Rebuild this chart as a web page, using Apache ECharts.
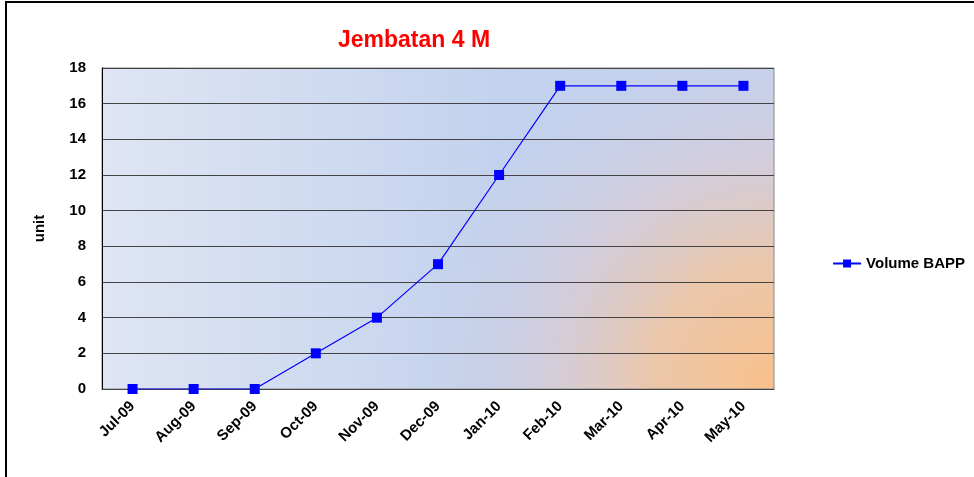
<!DOCTYPE html>
<html><head><meta charset="utf-8">
<script src="https://cdn.jsdelivr.net/npm/echarts@6/dist/echarts.min.js"></script>
<style>html,body{margin:0;padding:0;background:#fff}#c{width:974px;height:477px}</style>
</head><body><div id="c"></div>
<script>
var categories = ['Jul-09','Aug-09','Sep-09','Oct-09','Nov-09','Dec-09','Jan-10','Feb-10','Mar-10','Apr-10','May-10'];
var volumeBAPP = [0,0,0,2,4,7,12,17,17,17,17];
var yTicks = {min:0, max:18, interval:2};

var G = {left:102, top:68, right:974-774, bottom:477-389};
var chart = echarts.init(document.getElementById('c'));
var font = 'Liberation Sans, Arial, sans-serif';
chart.setOption({
  animation:false,
  title:{text:'Jembatan 4 M', left:409, top:24, textAlign:'center',
    textStyle:{color:'#ff0000', fontSize:23, fontWeight:'bold', fontFamily:font}},
  graphic:[
    {type:'rect', z:-10, silent:true, shape:{x:6,y:2,width:980,height:490},
      style:{fill:'none', stroke:'#000', lineWidth:2}},
    {type:'rect', z:-5, silent:true, shape:{x:G.left,y:G.top,width:672,height:321},
      style:{fill:new echarts.graphic.LinearGradient(0,0,1,0,[{offset:0,color:'#dfe5f3'},{offset:0.6,color:'#c2d2ee'},{offset:1,color:'#c4d2ee'}])}},
    {type:'rect', z:-4, silent:true, shape:{x:G.left,y:G.top,width:672,height:321},
      style:{fill:new echarts.graphic.RadialGradient(1,1,1.3,[{offset:0,color:'rgba(249,192,138,1)'},{offset:0.3,color:'rgba(238,198,165,0.92)'},{offset:0.6,color:'rgba(216,202,214,0.55)'},{offset:0.85,color:'rgba(200,205,230,0.12)'},{offset:1,color:'rgba(200,205,230,0)'}])}}
  ],
  legend:{right:4, top:251, itemWidth:28, itemHeight:10, itemGap:4,
    textStyle:{fontSize:15, fontWeight:'bold', color:'#000', fontFamily:font},
    data:['Volume BAPP']},
  grid:{left:G.left, top:G.top, right:G.right, bottom:G.bottom, show:true, borderColor:'#888', borderWidth:1, backgroundColor:'transparent'},
  xAxis:{type:'category', data:categories, boundaryGap:true,
    axisLine:{lineStyle:{color:'#444', width:1}},
    axisTick:{show:false},
    axisLabel:{rotate:45, interval:0, fontSize:15, fontWeight:'bold', color:'#000', fontFamily:font, margin:15}},
  yAxis:{type:'value', min:yTicks.min, max:yTicks.max, interval:yTicks.interval,
    name:'unit', nameLocation:'middle', nameGap:55, nameRotate:90,
    nameTextStyle:{fontSize:15, fontWeight:'bold', color:'#000', fontFamily:font},
    axisLine:{show:true, lineStyle:{color:'#000'}},
    axisTick:{show:false},
    splitLine:{lineStyle:{color:'#444', width:1}},
    axisLabel:{fontSize:15, fontWeight:'bold', color:'#000', fontFamily:font, margin:16}},
  series:[{name:'Volume BAPP', type:'line', data:volumeBAPP,
    lineStyle:{color:'#0000ff', width:1.2}, itemStyle:{color:'#0000ff'},
    symbol:'rect', symbolSize:10, showSymbol:true}]
});
</script></body></html>
